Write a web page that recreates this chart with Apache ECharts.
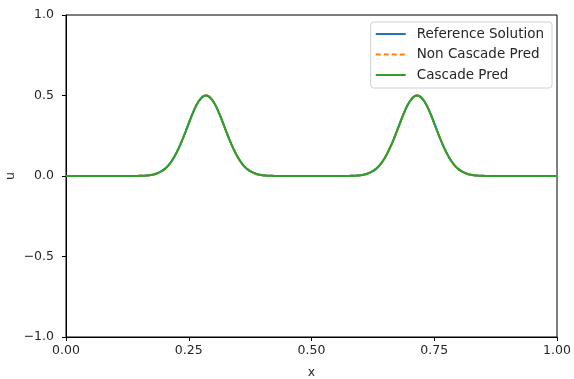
<!DOCTYPE html>
<html>
<head>
<meta charset="utf-8">
<script src="https://cdn.jsdelivr.net/npm/echarts@6/dist/echarts.min.js"></script>
<style>html,body{margin:0;padding:0;background:#fff;}#c{width:574px;height:379px;}</style>
</head>
<body>
<div id="c"></div>
<script>
// x sample positions 0.00 .. 1.00 (step 0.01, plus the two peak positions)
const xValues = [0,0.01,0.02,0.03,0.04,0.05,0.06,0.07,0.08,0.09,0.10,0.11,0.12,0.13,0.14,0.15,0.16,0.17,0.18,0.19,0.20,0.21,0.22,0.23,0.24,0.25,0.26,0.27,0.28,0.285,0.29,0.30,0.31,0.32,0.33,0.34,0.35,0.36,0.37,0.38,0.39,0.40,0.41,0.42,0.43,0.44,0.45,0.46,0.47,0.48,0.49,0.50,0.51,0.52,0.53,0.54,0.55,0.56,0.57,0.58,0.59,0.60,0.61,0.62,0.63,0.64,0.65,0.66,0.67,0.68,0.69,0.70,0.71,0.715,0.72,0.73,0.74,0.75,0.76,0.77,0.78,0.79,0.80,0.81,0.82,0.83,0.84,0.85,0.86,0.87,0.88,0.89,0.90,0.91,0.92,0.93,0.94,0.95,0.96,0.97,0.98,0.99,1.00];
const referenceSolution = [0,0,0,0,0,0,0,0,0,0,0,0,0,0,0,0.001,0.002,0.005,0.011,0.022,0.041,0.071,0.116,0.176,0.248,0.327,0.403,0.463,0.496,0.500,0.496,0.463,0.403,0.327,0.248,0.176,0.116,0.071,0.041,0.022,0.011,0.005,0.002,0.001,0,0,0,0,0,0,0,0,0,0,0,0,0,0,0,0.001,0.002,0.005,0.011,0.022,0.041,0.071,0.116,0.176,0.248,0.327,0.403,0.463,0.496,0.500,0.496,0.463,0.403,0.327,0.248,0.176,0.116,0.071,0.041,0.022,0.011,0.005,0.002,0.001,0,0,0,0,0,0,0,0,0,0,0,0,0,0,0];
const nonCascadePred = [0,0,0,0,0,0,0,0,0,0,0,0,0,0,0,0.001,0.002,0.005,0.011,0.022,0.041,0.071,0.116,0.176,0.248,0.327,0.403,0.463,0.496,0.500,0.496,0.463,0.403,0.327,0.248,0.176,0.116,0.071,0.041,0.022,0.011,0.005,0.002,0.001,0,0,0,0,0,0,0,0,0,0,0,0,0,0,0,0.001,0.002,0.005,0.011,0.022,0.041,0.071,0.116,0.176,0.248,0.327,0.403,0.463,0.496,0.500,0.496,0.463,0.403,0.327,0.248,0.176,0.116,0.071,0.041,0.022,0.011,0.005,0.002,0.001,0,0,0,0,0,0,0,0,0,0,0,0,0,0,0];
const cascadePred = [0,0,0,0,0,0,0,0,0,0,0,0,0,0,0,0.001,0.002,0.005,0.011,0.022,0.041,0.071,0.116,0.176,0.248,0.327,0.403,0.463,0.496,0.500,0.496,0.463,0.403,0.327,0.248,0.176,0.116,0.071,0.041,0.022,0.011,0.005,0.002,0.001,0,0,0,0,0,0,0,0,0,0,0,0,0,0,0,0.001,0.002,0.005,0.011,0.022,0.041,0.071,0.116,0.176,0.248,0.327,0.403,0.463,0.496,0.500,0.496,0.463,0.403,0.327,0.248,0.176,0.116,0.071,0.041,0.022,0.011,0.005,0.002,0.001,0,0,0,0,0,0,0,0,0,0,0,0,0,0,0];
const seriesNames = ['Reference Solution', 'Non Cascade Pred', 'Cascade Pred'];

const pairs = arr => xValues.map((x, i) => [x, arr[i]]);
const font = 'DejaVu Sans';
const txt = '#262626';
const chart = echarts.init(document.getElementById('c'), null, {renderer: 'canvas'});
chart.setOption({
  animation: false,
  backgroundColor: '#fff',
  textStyle: {fontFamily: font},
  grid: {left: 66, top: 15, right: 17, bottom: 42, outerBoundsMode: 'none', containLabel: false, show: true, borderColor: '#000', borderWidth: 1, backgroundColor: 'transparent'},
  legend: {
    orient: 'vertical', right: 22, top: 22,
    itemWidth: 30, itemHeight: 14, itemGap: 6.5,
    padding: [5, 8, 6, 4],
    backgroundColor: 'rgba(255,255,255,0.8)', borderColor: '#d0d0d0', borderWidth: 1, borderRadius: 3,
    itemStyle: {opacity: 0},
    textStyle: {fontFamily: font, fontSize: 13.5, color: txt, padding: [0, 0, 0, 6]},
    data: seriesNames
  },
  xAxis: {
    type: 'value', min: 0, max: 1, interval: 0.25,
    name: 'x', nameLocation: 'middle', nameGap: 29,
    nameTextStyle: {fontFamily: font, fontSize: 12.5, color: txt},
    axisLine: {show: true, onZero: false, lineStyle: {color: '#000', width: 1}},
    axisTick: {show: true, length: 4, lineStyle: {color: '#000'}},
    axisLabel: {fontFamily: font, fontSize: 12.5, color: txt, margin: 7, formatter: v => v.toFixed(2)},
    splitLine: {show: false}
  },
  yAxis: {
    type: 'value', min: -1, max: 1, interval: 0.5,
    name: 'u', nameLocation: 'middle', nameGap: 49, nameMoveOverlap: false,
    nameTextStyle: {fontFamily: font, fontSize: 12.5, color: txt},
    axisLine: {show: true, onZero: false, lineStyle: {color: '#000', width: 1}},
    axisTick: {show: true, length: 4, lineStyle: {color: '#000'}},
    axisLabel: {fontFamily: font, fontSize: 12.5, color: txt, margin: 12, formatter: v => v.toFixed(1).replace('-', '\u2212')},
    splitLine: {show: false}
  },
  series: [
    {name: seriesNames[0], type: 'line', data: pairs(referenceSolution), symbol: 'none', smooth: true, lineStyle: {color: '#1f77b4', width: 2}, itemStyle: {color: '#1f77b4'}},
    {name: seriesNames[1], type: 'line', data: pairs(nonCascadePred), symbol: 'none', smooth: true, lineStyle: {color: '#ff7f0e', width: 2, type: [5, 3]}, itemStyle: {color: '#ff7f0e'}},
    {name: seriesNames[2], type: 'line', data: pairs(cascadePred), symbol: 'none', smooth: true, lineStyle: {color: '#2ca02c', width: 2}, itemStyle: {color: '#2ca02c'}}
  ]
});
</script>
</body>
</html>
